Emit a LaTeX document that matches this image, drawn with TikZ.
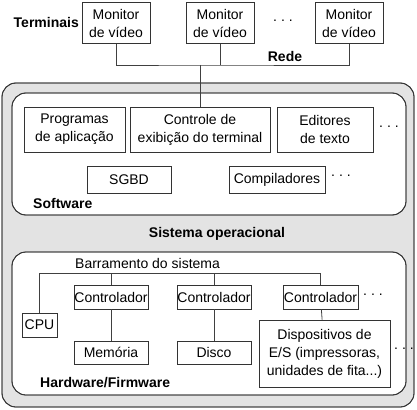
\documentclass[tikz,border=0pt]{standalone}
\usepackage{fontspec}
\setmainfont{Liberation Sans}
\newcommand{\tam}{\fontsize{14}{18}\selectfont}
\newcommand{\pontos}{.\hspace{4pt}.\hspace{4pt}.}

\tikzset{
  caixa/.style={draw=black!80, fill=white, line width=0.8pt, align=center, inner sep=0pt, font=\tam},
  rotulo/.style={font=\tam\bfseries, inner sep=0pt},
  texto/.style={font=\tam, inner sep=0pt},
  camada/.style={draw=black!80, line width=0.8pt, rounded corners=14pt},
  fio/.style={draw=black!75, line width=0.8pt}
}

\begin{document}
\begin{tikzpicture}[x=1pt,y=-1pt]
  \useasboundingbox (0,0) rectangle (417,409);
  % Camadas
  \fill[camada, fill=black!11] (2,83) rectangle (414,407);
  \fill[camada, fill=white] (12,93) rectangle (406,215);
  \fill[camada, fill=white] (12,252) rectangle (406,395);
  \draw[camada] (2,83) rectangle (414,407);
  \draw[camada] (12,93) rectangle (406,215);
  \draw[camada] (12,252) rectangle (406,395);

  % Terminais
  \node[caixa, minimum width=68pt, minimum height=41pt] (mon1) at (116,23) {Monitor\\de vídeo};
  \node[caixa, minimum width=68pt, minimum height=41pt] (mon2) at (220,23) {Monitor\\de vídeo};
  \node[caixa, minimum width=68pt, minimum height=41pt] (mon3) at (349,23) {Monitor\\de vídeo};
  \node[texto] (pt1) at (283,21) {\pontos};
  \node[rotulo, anchor=east] (term) at (79,22) {Terminais};
  \node[rotulo] (redelbl) at (285,56) {Rede};

  % Software
  \node[caixa, minimum width=101pt, minimum height=45pt] (prog) at (74.5,129.5) {Programas\\de aplicação};
  \node[caixa, minimum width=140pt, minimum height=45pt] (ctrl) at (200,129.5) {Controle de\\exibição do terminal};
  \node[caixa, minimum width=96pt, minimum height=45pt] (edit) at (325,129.5) {Editores\\de texto};
  \node[texto] (pt2) at (389,127) {\pontos};
  \node[caixa, minimum width=84pt, minimum height=27pt] (sgbd) at (129,179.5) {SGBD};
  \node[caixa, minimum width=96pt, minimum height=27pt] (comp) at (277,179.5) {Compiladores};
  \node[texto] (pt3) at (341,176) {\pontos};
  \node[rotulo, anchor=west] (soft) at (33,203) {Software};

  \node[rotulo] (so) at (217,234) {Sistema operacional};

  % Hardware
  \node[texto, anchor=west] (barr) at (75,263) {Barramento do sistema};
  \node[caixa, minimum width=35pt, minimum height=24pt] (cpu) at (39.5,325) {CPU};
  \node[caixa, minimum width=74pt, minimum height=24pt] (c1) at (111,297) {Controlador};
  \node[caixa, minimum width=74pt, minimum height=24pt] (c2) at (214,297) {Controlador};
  \node[caixa, minimum width=75pt, minimum height=24pt] (c3) at (320.5,297) {Controlador};
  \node[texto] (pt4) at (373,295) {\pontos};
  \node[caixa, minimum width=74pt, minimum height=23pt] (mem) at (111,352.5) {Memória};
  \node[caixa, minimum width=74pt, minimum height=23pt] (disco) at (214,352.5) {Disco};
  \node[caixa, minimum width=131pt, minimum height=67pt] (dev) at (324.5,353.5)
    {Dispositivos de\\E/S (impressoras,\\unidades de fita...)};
  \node[texto] (pt5) at (404,349) {\pontos};
  \node[rotulo, anchor=west] (hard) at (40,383) {Hardware/Firmware};

  % Rede
  \coordinate (rede) at (200,65);
  \draw[fio] (mon1.south) |- (rede) -| (mon3.south);
  \draw[fio] (mon2.south) -- (mon2.south |- rede);
  \draw[fio] (rede) -- (ctrl.north);

  % Barramento
  \coordinate (bus) at (40,273);
  \draw[fio] (cpu.north) -- (cpu.north |- bus) -| (c3.north);
  \foreach \c in {c1,c2}
    \draw[fio] (\c.north) -- (\c.north |- bus);
  \draw[fio] (c1) -- (mem);
  \draw[fio] (c2) -- (disco);
  \draw[fio] (c3) -- (dev);
\end{tikzpicture}
\end{document}
